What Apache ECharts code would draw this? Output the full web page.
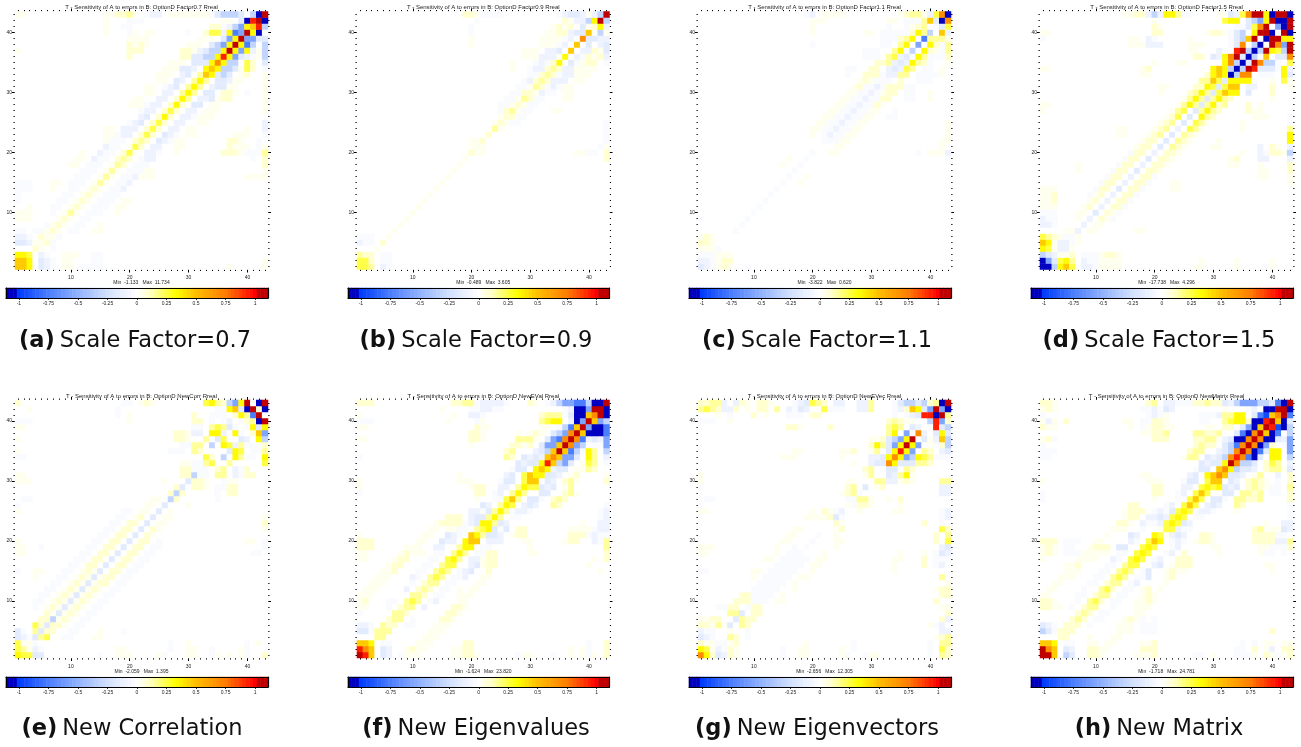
<!DOCTYPE html>
<html><head><meta charset="utf-8">
<style>html,body{margin:0;padding:0;background:#fff}#c{width:1301px;height:747px;filter:blur(0.35px)}</style>
<script src="https://cdn.jsdelivr.net/npm/echarts@6/dist/echarts.min.js"></script>
</head><body><div id="c"></div>
<script>
// Sensitivity levels
const LEVELS={'.':0,a:-0.04,b:-0.08,c:-0.15,d:-0.32,e:-0.55,f:-0.75,g:-0.95,h:-1.1,
 '1':0.04,'2':0.09,'3':0.16,'4':0.25,'5':0.33,'6':0.47,'7':0.68,'8':0.95,'9':1.1};
const TICK_LABELS=[-1,-0.75,-0.5,-0.25,0,0.25,0.5,0.75,1];
const TITLES=["Factor0.7","Factor0.9","Factor1.1","Factor1.5","NewCorr","NewEVal","NewEVec","NewMatrix"];
const CAPTIONS=[["(a)","Scale Factor=0.7"],["(b)","Scale Factor=0.9"],["(c)","Scale Factor=1.1"],["(d)","Scale Factor=1.5"],["(e)","New Correlation"],["(f)","New Eigenvalues"],["(g)","New Eigenvectors"],["(h)","New Matrix"]];
const MINS=["-1.133","-0.489","-3.822","-17.738","-2.059","-1.624","-2.656","-1.718"];
const MAXS=["11.734","3.605","0.620","4.296","1.395","23.820","12.305","24.781"];
// Symmetric matrices: "row col levels" runs along a row, "/row col levels" runs along a diagonal.
const cellsA=["43 1 11","15 1 aaa","14 1 aaa","13 1 a","41 16 1","42 16 1","40 16 1","42 20 aaa","41 19 aa","40 20 aa","40 23 11","39 21 111","38 20 2221","37 20 222","36 20 2","41 34 2221","40 33 2443","39 32 111","38 30 111","37 29 221","36 29 221","35 27 111","34 26 111","33 25 111","32 25 11","31 23 11","30 23 11","29 21 11","28 20 111","24 16 11","23 16 11","22 16 1","20 12 1","19 11 11","18 10 11","15 7 11","14 7 1","23 39 11","21 38 111","20 38 21","16 41 111","17 43 1","30 40 a","20 43 3","19 43 3","18 43 1","23 43 a","24 43 a","30 43 1","31 43 1","32 43 1","33 43 1","43 18 2231.abb","43 27 1111111",
"1 1 665.cba","1 9 11","1 12 aaaa","1 37 1","1 43 1","2 2 65.cba","2 9 11","2 14 aa","2 43 1","3 3 4.ba","3 9 111","4 4 21.a","5 5 12a","6 6 11a","7 7 21.aa","8 8 21.aa","9 9 21.aa","10 10 31.aaa","11 11 21.aaa","12 12 21.aaa","13 13 21.aaa","14 14 21.aab","15 15 31.aab","16 16 31.aab","17 17 31.aaa","18 18 32.aaa","19 19 32.abb","20 20 41.bba","21 21 42.bb","22 22 32.cba","23 23 42.cba","24 24 42.bb","25 25 42.bb","26 26 52.bba","27 27 42.bb","28 28 52.cc","29 29 53.bbc","30 30 53.cc","31 31 53.bcc","32 32 53.ccb","33 33 65cdc","34 34 65ddc","35 35 75dd","36 36 85ecba1","36 43 c","35 43 b","37 37 95ecb1d","38 38 95fd.c","39 39 9eeed","40 40 95h.","40 37 5","41 39 e","41 41 68e","42 36 11.c","42 42 9h","43 34 acdddc.dh9"];
const cellsB=["43 19 221","43 23 aaa","41 35 112","40 34 1221","39 34 11","39 20 1","38 32 111","37 29 111","36 29 111","34 27 1","27 35 1","35 40 22","34 40 11","33 39 11","32 39 1","19 43 2","20 43 2","21 43 1","20 38 1","20 40 aa","24 43 a","25 43 a","22 43 a","37 43 b","36 43 b","35 43 a","40 20 a","41 20 a","42 21 a","21 20 1","22 20 1","22 21 1",
"/25 27 aaaaabababbb","/25 28 aaaaaabbbbb","/30 34 aabb","/24 25 112112122221","/7 7 1111111111111","/20 20 212232232323333556676",
"1 1 443.ba","2 2 42.aa","3 3 2.aa","4 4 1","5 5 2","6 6 1","35 37 c","36 38 c","37 39 c","38 40 c","38 41 b","43 35 abccc1cd9","42 36 21.bd59d","41 38 ab125b","40 37 bcc61d1","39 36 abc7ccbb","38 35 ab.6.c.b","41 41 2","42 42 9","43 43 9"];
const cellsC=["43 19 aa","43 22 121","41 20 1","40 20 1","42 20 1","38 20 a","40 30 1","39 33 aa","38 32 aa","37 29 aaa","36 29 aaa","34 26 aa","33 26 a","19 43 a","20 43 b","21 42 1","22 42 1","23 43 1","24 43 1","25 43 1","20 40 11","20 38 a","29 40 1","33 42 1","34 42 1","33 39 aaa","32 39 aa","9 1 a",
"/22 23 aaaaaaaaaaa","/22 24 aaaaaaaaaaa","/21 24 11111112222","/20 23 1111111122222","/20 24 111111112222","/21 25 1111111122",
"/7 7 aaaaaaaaaaaaaa","/22 22 abbbbbbbbbbbbc","18 15 1","19 16 1","15 18 1","16 19 1",
"1 1 cba132","2 2 ba122","3 3 a111","4 4 a","4 1 1","5 1 22","6 1 1",
"32 29 21aab22","33 30 22abb32","34 30 22.bcb33.aa.1","35 32 23bcc.52","36 33 34bcc5","36 38 5baab3","37 34 35adb5","37 39 311a3","38 35 35.e","38 40 51a3","39 36 35.f4331","40 34 aaa253d.6a","41 38 23.ac3","42 33 11.aaa36ch7","43 35 12331b47h"];
const cellsD=["43 15 111.bdb553aa","43 31 11aa","18 43 2","17 43 2","16 43 1","15 43 1","42 20 1","41 20 21","40 20 22","39 20 1","39 16 11","38 16 111","39 19 ba","38 19 bbb","40 29 1221","39 26 1","38 26 111","37 26 11","36 27 22","35 24 11","34 18 11","33 18 1","35 20 1","34 19 2","33 19 1","31 21 11","30 21 1","24 14 11","23 14 11","18 7 1","17 7 1","14 1 111","13 1 222","12 1 222","11 1 111","9 1 bba","8 1 bba","10 1 aaa","28 1 11","34 1 11","40 1 11","39 1 a","1 9 ba","1 12 11","2 9 aa","2 12 11","1 27 1",
"/7 9 1122222222222233344555","/7 10 1111222222222222233334444","/15 19 11111111111222","/9 13 aaaaaaaa","/7 7 bbbcbbbcbbcbcbcccbcccccdcd",
"1 1 hhd564","2 2 ec453","3 3 b112","4 4 bb1","5 5 ba1","6 6 a1",
"28 27 3cc253","29 27 53cd252","30 28 53cd365.c","31 28 254cd56.bb","32 29 364cc65.a","33 30 565hd77.aaa.3c","34 31 65dhd9.bc.a4b","35 32 57dhd97baa54","36 32 579chc97ccc7","37 33 .89dhd954e9","38 34 c7.dh.96d9","39 34 cd69.h9863","40 34 cd.599h.9h","41 35 ac479.eh9","42 32 455.cde59hh9","43 35 47995h99h"];
const cellsE=["43 1 1","42 3 1","43 22 121","43 19 aa","41 20 1","40 20 1","40 1 aaa","39 1 11","34 1 aa","31 1 11","30 1 11","25 1 1","27 2 aa","26 1 a","19 1 11","18 1 11","20 1 1","19 5 a","24 43 1","23 43 2","22 43 1","20 43 a","20 40 11","18 41 aa","4 14 11","5 15 1","1 18 11","2 18 1","1 30 11","2 30 11","1 35 1","1 37 1","1 43 2","3 42 1","1 15 a",
"/4 9 aaaaaaaaaaaaaaaaa","/4 10 aaaaaaaaaaaaaaaa","/4 5 32211111111","/4 6 4222222222222222222111","/6 9 1111111222222221111",
"1 1 544cc","2 2 31ba","3 3 1a","4 4 c34","5 5 c","/5 5 ccdcccccccccccccccccccddcdddc","27 28 2","28 27 2","29 28 2c.22","30 30 c22","30 26 1","30 1 111","31 29 22","31 35 33","31 39 222","32 29 22","32 31 aaa","32 35 43","33 29 11","33 31 aa33","33 43 3","34 33 42.","34 36 c.53aa.5","35 27 aaa.32","35 36 .c53aaa3","36 29 aa","36 31 33.d.5cb3baa3","37 28 221","37 33 3.c4.c33.5d","38 28 221","38 31 bb.55b.5.b26d","39 31 aa.343ca..5c5","40 31 22","40 34 a.ab","40 38 .a2","40 42 h9","41 38 253f9.","42 37 56ch92h","43 33 4532de59.h9"];
const cellsF=["/9 1 111111222222111","/10 1 21111122222111","/11 1 111111111","20 1 222","19 1 222","18 1 11","17 1 11","30 1 1","29 1 1","28 1 a","41 1 1","40 1 aaa","39 1 11","37 1 11","43 1 222","34 1 a","20 11 11","19 10 11","18 10 111","24 16 222","23 15 2222","22 16 111","31 18 1","30 18 111","29 20 111","29 21 22","28 21 22","27 21 1","38 20 222","37 20 221","39 22 11","35 26 231","34 26 21","33 26 11","36 29 23","37 28 2321","38 30 11","40 16 1","41 17 1","42 15 1","42 20 aabbaa","41 20 bb","40 21 a","43 22 bbbba","31 43 1","20 43 3","19 43 3","18 43 2","17 43 2","21 43 a","25 43 b","24 43 b","23 43 b","21 38 222","22 38 111","20 36 12","22 41 a","21 40 ab","1 9 11","2 9 12","1 18 1","1 21 1",
"1 1 986.cb.a","2 2 76.cb","3 3 5.aa","4 4 33","5 5 31","6 5 322.aa","7 6 232.a","8 7 333","9 8 232.b","10 9 343.ab","11 10 333.aa","12 11 232.aa","13 12 232.aa","14 13 343.aab","15 14 343.abc","16 15 343..bc","17 16 453.bb","18 17 353.aa","19 18 355.aa","20 19 563.ccb","21 20 653cdb","22 22 45.cc","23 20 bcb","23 22 55.cb","24 20 bcc","24 23 353.bb","25 20 bba","25 24 353.aab","26 25 353.bcb..32","27 24 aa463.bcb.232","28 24 ab.353.bcc..231","29 25 bb.353.bcc.13","30 25 acc.464.cc.23","30 43 2","31 26 bc.4654.cd.12","32 27 acc.565acc.1332","33 29 bcc586ddc.233.a","34 30 bcb676ddc.53.c","35 31 bcd696fe.53.e","36 32 cee696fd.aae","37 34 ef797eecbe","38 34 cde796hhde","39 32 11","39 35 adf69hhed","40 33 455.bhe97hd","41 38 hh6799h","42 37 bhhe99h","43 33 abdeeffdhh9"];
const cellsG=["43 1 2222","43 7 b","43 9 1","43 12 21","43 20 222","42 1 2232","42 6 a","42 9 1","42 12 2","42 16 bbbb","42 24 3","41 4 1","41 6 a","41 12 1","41 16 aaa","41 20 22","40 1 aaa","40 6 1","20 43 4","21 43 3","19 43 c","18 42 cb","17 42 aa","22 42 4","14 42 3","3 42 33","2 42 4","1 42 32","4 42 23","5 42 bb","6 41 ab","8 43 2","7 42 2","11 42 22","10 41 2","18 39 1","17 39 2","16 39 2","23 39 2","35 17 11","34 15 111","30 1 1","31 1 1","26 1 a","27 2 aa","29 1 a","25 1 11","19 1 111","18 1 11","15 1 aa","34 25 1","35 25 112","33 27 1","30 42 33","29 42 bb","28 42 bb","25 42 ab","24 42 ab","23 42 a",
"/10 14 11.11.111.1","/10 15 1.1.1111.11","/10 10 aaaaaaaaaaaa","/10 11 aaaaaaaa","/10 12 aaaaaaaa",
"1 1 752cb12","2 2 41ba2","3 3 1.a3","4 4 .","4 1 cba","4 6 3","5 1 b","5 6 1","6 1 2213","6 6 c.31","7 1 1122","7 7 c.22","8 6 33c.2","8 10 22","9 4 aa","9 6 22","9 9 a22",
"25 24 ab","25 22 21","24 22 21","24 24 c","23 24 2","22 24 1","21 24 1","26 26 1","28 25 123","28 28 a","29 29 c","27 26 aa","27 29 31","26 29 21",
"30 33 bb.22","31 29 13","31 33 cc25","32 29 23","32 32 .cb","33 31 cc75dd11","34 31 bc57dd.33.aaa","35 30 13.c585e.22.cc","36 31 53ce595c1.a1d","37 30 112","37 33 cde592c1.6d","38 33 35.e.7..b5d","39 33 343.cb","39 39 ..8dc","40 33 2321","40 39 .d8e3","41 36 abc88h9c","42 35 b265ce9eh","43 35 cddcd23h9"];
const cellsH=["/10 1 2111122222111","/11 1 111111111","20 1 222","19 1 322","18 1 221","17 1 1","20 5 aaa","19 5 aa","18 5 aaa","20 10 11","19 10 222","18 9 1111","17 8 111","43 1 111","42 1 221","41 1 a","40 1 bb1","39 1 211","37 1 222","35 1 aaa","34 1 aa","30 1 1","28 1 a","27 1 a","40 5 2","43 19 22","43 22 abbba","43 27 22332","42 18 ab","42 20 bccb","41 20 bb","41 28 aaab","40 15 11","40 19 aaa","40 22 1","40 28 aa","38 20 223","37 20 222","39 22 2","39 16 1","39 29 11","38 27 333","37 27 2342","36 27 221","35 26 132","34 25 11","33 26 1","24 15 221","23 14 221","22 14 11","31 18 11","30 19 111","29 20 22","28 20 22","27 20 1","18 25 2","17 24 222","16 24 222","15 24 11","21 38 222","20 38 222","19 38 11","18 38 1","22 39 111","23 39 1","25 43 a","24 43 a","22 43 b","20 43 3","19 43 2","21 41 aa","20 41 bb","19 41 aa","18 39 aa","1 9 22","2 9 22","3 9 11","4 9 1","5 15 11","6 14 11","7 15 1","1 18 11","2 18 22","3 18 11","1 36 a","1 37 1","1 40 1","1 42 1","1 43 2","2 43 2","3 37 a","11 20 1","10 18 12","9 18 11","/7 11 aaaaaaaa",
"1 1 996.dc","2 2 76.cb","3 3 5.aa","4 4 22","5 5 2","6 5 222.a","7 6 232.a","8 7 232.a","9 8 232","10 9 343.a","11 10 232.aa","12 11 343.a","13 12 232.ab","14 13 343.aac","15 14 343.ac","16 15 343..bc","17 16 454.ab","18 17 454..ab","19 18 454..ab","20 19 465.bb","21 20 54.ccb","22 21 14.cca","23 20 abb","23 22 45.cb","24 20 bcb","24 23 454.bb","25 20 aba","25 24 454.aab","26 25 464.bcb..32","27 24 aa464.bcb.332","28 24 ab.464.bcc.332","29 25 bb.454.bcc.232","30 25 acc.464.cc.232","30 43 2","31 26 bc.5675.cd.13","32 27 acc.676cdcb.2331","33 29 bcc597dec.244.b","34 30 bcd787ehc.55.c","35 31 bcd797he.45.d","36 33 df797hd..ad","37 34 hh797he.ce","38 34 cfh797hecd","39 35 ceh69fedd","40 32 34552hh896hc","41 33 355.cfg679e","42 37 b.hh99h","43 32 cbdeeeddcfh9"];
const ALL_CELLS=[cellsA,cellsB,cellsC,cellsD,cellsE,cellsF,cellsG,cellsH];

const N=43;
function decode(entries){
  const m=Array.from({length:N},()=>new Array(N).fill(0));
  entries.forEach(e=>{
    const diag=e[0]==='/';
    const [r,c,s]=e.replace('/','').split(' ');
    [...s].forEach((ch,j)=>{
      const rr=+r-1+(diag?j:0), cc=+c-1+j;
      if(rr<N&&cc<N){m[rr][cc]=LEVELS[ch];m[cc][rr]=LEVELS[ch];}
    });
  });
  const out=[];
  for(let y=0;y<N;y++)for(let x=0;x<N;x++)out.push([x,y,m[y][x]]);
  return out;
}
function lerp(a,b,t){return a+(b-a)*t;}
const STOPS=[[-1,[0,60,255]],[-0.75,[75,125,255]],[-0.5,[145,178,255]],[-0.25,[210,224,255]],[0,[255,255,255]],[0.1,[255,255,205]],[0.33,[255,255,0]],[0.5,[255,190,0]],[0.75,[255,125,0]],[1,[255,0,0]]];
function colorOf(v){
  if(v<-1.001)return '#0000c0';
  if(v>1.001)return '#c00000';
  for(let i=0;i<STOPS.length-1;i++){
    const [a,ca]=STOPS[i],[b,cb]=STOPS[i+1];
    if(v<=b+1e-9){const t=Math.max(0,(v-a)/(b-a));
      return `rgb(${ca.map((k,n)=>Math.round(lerp(k,cb[n],t))).join(',')})`;}
  }
  return '#c00000';
}
const barValues=[];for(let k=-35;k<=35;k++)barValues.push(k/32);
const pieces=barValues.map((v,i)=>{
  const p={color:colorOf(v)};
  if(i>0)p.gte=v-1/64;
  if(i<barValues.length-1)p.lt=v+1/64;
  return p;
});
const PLOT_X=[[15,268],[357,609.5],[698,951],[1040,1293]];
const BAR_X=[6,348,689,1031];
const ROW_Y=[[11.5,269.5],[400,658]];
const BAR_Y=[288,677];
const CAP_X=[135,476,817,1159,132,476,817,1159];
const CAP_Y=[339,727];
const FONT='"Liberation Sans",Arial,sans-serif';
const CAPFONT='"DejaVu Sans",sans-serif';
const cats=Array.from({length:N},(_,i)=>String(i+1));
const major=i=>(i+1)%10===0;
const grids=[],xs=[],ys=[],series=[],titles=[];
function addAxis(list,o){list.push(o);return list.length-1;}
ALL_CELLS.forEach((cells,i)=>{
  const col=i%4,row=i<4?0:1;
  const [x0,x1]=PLOT_X[col],[y0,y1]=ROW_Y[row];
  const g=grids.length;
  grids.push({left:x0,width:x1-x0,top:y0,height:y1-y0});
  const tick=(len,interval)=>({show:true,alignWithLabel:true,length:len,interval,lineStyle:{color:'#000',width:1}});
  const base={type:'category',data:cats,gridIndex:g,boundaryGap:true,axisLine:{show:false},splitLine:{show:false},silent:true,axisPointer:{show:false}};
  const xi=addAxis(xs,{...base,position:'bottom',axisTick:tick(1.5,0),
    axisLabel:{show:true,interval:(n)=>major(n),fontSize:5,color:'#222',margin:6,fontFamily:FONT,hideOverlap:false}});
  const yi=addAxis(ys,{...base,position:'left',axisTick:tick(1.5,0),
    axisLabel:{show:true,interval:(n)=>major(n),fontSize:5,color:'#222',margin:3,fontFamily:FONT,hideOverlap:false}});
  addAxis(xs,{...base,position:'top',axisTick:tick(1.5,0),axisLabel:{show:false}});
  addAxis(ys,{...base,position:'right',axisTick:tick(1.5,0),axisLabel:{show:false}});
  addAxis(xs,{...base,position:'bottom',axisTick:tick(3,major),axisLabel:{show:false}});
  addAxis(xs,{...base,position:'top',axisTick:tick(3,major),axisLabel:{show:false}});
  addAxis(ys,{...base,position:'left',axisTick:tick(3,major),axisLabel:{show:false}});
  addAxis(ys,{...base,position:'right',axisTick:tick(3,major),axisLabel:{show:false}});
  series.push({type:'heatmap',xAxisIndex:xi,yAxisIndex:yi,data:decode(cells),silent:true,itemStyle:{borderWidth:0},emphasis:{disabled:true},progressive:0,animation:false});

  // colour bar
  const bx0=BAR_X[col],by0=BAR_Y[row];
  const bg=grids.length;
  grids.push({left:bx0,width:x1-bx0,top:by0,height:10});
  const barCats=barValues.map(String);
  const isTick=(n)=>TICK_LABELS.includes(barValues[n]);
  const bline={show:true,lineStyle:{color:'#000',width:1.2}};
  const bbase={type:'category',gridIndex:bg,silent:true,z:5,splitLine:{show:false},axisPointer:{show:false}};
  const bxi=addAxis(xs,{...bbase,data:barCats,position:'bottom',axisLine:bline,
    axisTick:{show:true,alignWithLabel:true,interval:isTick,length:2,lineStyle:{color:'#000',width:.8}},
    axisLabel:{show:true,interval:isTick,fontSize:5,color:'#222',margin:3,fontFamily:FONT,hideOverlap:false}});
  const byi=addAxis(ys,{...bbase,data:['bar'],position:'left',axisLine:bline,axisTick:{show:false},axisLabel:{show:false}});
  addAxis(xs,{...bbase,data:barCats,position:'top',axisLine:bline,axisTick:{show:false},axisLabel:{show:false}});
  addAxis(ys,{...bbase,data:['bar'],position:'right',axisLine:bline,axisTick:{show:false},axisLabel:{show:false}});
  series.push({type:'heatmap',xAxisIndex:bxi,yAxisIndex:byi,data:barValues.map((v,n)=>[n,0,v]),silent:true,emphasis:{disabled:true},animation:false});

  const cx=(x0+x1)/2;
  titles.push({text:`T - Sensitivity of A to errors in B: OptionD ${TITLES[i]} Rreal`,left:cx,top:y0-7,textAlign:'center',
    textStyle:{fontSize:6,fontWeight:'normal',color:'#222',fontFamily:FONT},padding:0});
  titles.push({text:`Min  ${MINS[i]}   Max  ${MAXS[i]}`,left:cx,top:y1+11,textAlign:'center',
    textStyle:{fontSize:5,fontWeight:'normal',color:'#222',fontFamily:FONT},padding:0});
  const [lab,name]=CAPTIONS[i];
  titles.push({text:`{b|${lab}} {n|${name}}`,left:CAP_X[i],top:CAP_Y[row]-9,textAlign:'center',padding:0,
    textStyle:{fontWeight:'normal',rich:{b:{fontSize:22.5,fontWeight:'bold',color:'#111',fontFamily:CAPFONT},n:{fontSize:22.5,fontWeight:'normal',color:'#111',fontFamily:CAPFONT}}}});
});
const chart=echarts.init(document.getElementById('c'),null,{renderer:'canvas',width:1301,height:747});
chart.setOption({animation:false,backgroundColor:'#fff',title:titles,grid:grids,xAxis:xs,yAxis:ys,series,tooltip:{show:false},
  visualMap:{type:'piecewise',show:false,dimension:2,pieces}});
</script></body></html>
